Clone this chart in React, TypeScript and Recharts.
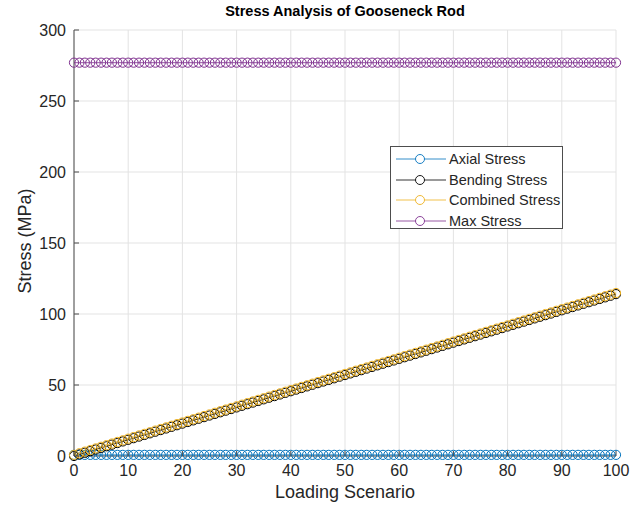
import { LineChart, Line, XAxis, YAxis, CartesianGrid } from 'recharts';

// Loading scenario index and stresses (MPa)
const scenarios = [
  0, 1, 2, 3, 4, 5, 6, 7, 8, 9, 10, 11, 12, 13, 14, 15, 16, 17, 18, 19, 20,
  21, 22, 23, 24, 25, 26, 27, 28, 29, 30, 31, 32, 33, 34, 35, 36, 37, 38, 39, 40,
  41, 42, 43, 44, 45, 46, 47, 48, 49, 50, 51, 52, 53, 54, 55, 56, 57, 58, 59, 60,
  61, 62, 63, 64, 65, 66, 67, 68, 69, 70, 71, 72, 73, 74, 75, 76, 77, 78, 79, 80,
  81, 82, 83, 84, 85, 86, 87, 88, 89, 90, 91, 92, 93, 94, 95, 96, 97, 98, 99, 100,
];

const axialStress = [
  0.8, 0.8, 0.8, 0.8, 0.8, 0.8, 0.8, 0.8, 0.8, 0.8, 0.8, 0.8, 0.8, 0.8, 0.8, 0.8, 0.8, 0.8, 0.8, 0.8, 0.8,
  0.8, 0.8, 0.8, 0.8, 0.8, 0.8, 0.8, 0.8, 0.8, 0.8, 0.8, 0.8, 0.8, 0.8, 0.8, 0.8, 0.8, 0.8, 0.8, 0.8,
  0.8, 0.8, 0.8, 0.8, 0.8, 0.8, 0.8, 0.8, 0.8, 0.8, 0.8, 0.8, 0.8, 0.8, 0.8, 0.8, 0.8, 0.8, 0.8, 0.8,
  0.8, 0.8, 0.8, 0.8, 0.8, 0.8, 0.8, 0.8, 0.8, 0.8, 0.8, 0.8, 0.8, 0.8, 0.8, 0.8, 0.8, 0.8, 0.8, 0.8,
  0.8, 0.8, 0.8, 0.8, 0.8, 0.8, 0.8, 0.8, 0.8, 0.8, 0.8, 0.8, 0.8, 0.8, 0.8, 0.8, 0.8, 0.8, 0.8, 0.8,
];

const bendingStress = [
  0, 1.14, 2.28, 3.42, 4.56, 5.7, 6.84, 7.98, 9.12, 10.26, 11.4,
  12.54, 13.68, 14.82, 15.96, 17.1, 18.24, 19.38, 20.52, 21.66, 22.8,
  23.94, 25.08, 26.22, 27.36, 28.5, 29.64, 30.78, 31.92, 33.06, 34.2,
  35.34, 36.48, 37.62, 38.76, 39.9, 41.04, 42.18, 43.32, 44.46, 45.6,
  46.74, 47.88, 49.02, 50.16, 51.3, 52.44, 53.58, 54.72, 55.86, 57,
  58.14, 59.28, 60.42, 61.56, 62.7, 63.84, 64.98, 66.12, 67.26, 68.4,
  69.54, 70.68, 71.82, 72.96, 74.1, 75.24, 76.38, 77.52, 78.66, 79.8,
  80.94, 82.08, 83.22, 84.36, 85.5, 86.64, 87.78, 88.92, 90.06, 91.2,
  92.34, 93.48, 94.62, 95.76, 96.9, 98.04, 99.18, 100.32, 101.46, 102.6,
  103.74, 104.88, 106.02, 107.16, 108.3, 109.44, 110.58, 111.72, 112.86, 114,
];

const combinedStress = [
  0.8, 1.94, 3.08, 4.22, 5.36, 6.5, 7.64, 8.78, 9.92, 11.06, 12.2,
  13.34, 14.48, 15.62, 16.76, 17.9, 19.04, 20.18, 21.32, 22.46, 23.6,
  24.74, 25.88, 27.02, 28.16, 29.3, 30.44, 31.58, 32.72, 33.86, 35,
  36.14, 37.28, 38.42, 39.56, 40.7, 41.84, 42.98, 44.12, 45.26, 46.4,
  47.54, 48.68, 49.82, 50.96, 52.1, 53.24, 54.38, 55.52, 56.66, 57.8,
  58.94, 60.08, 61.22, 62.36, 63.5, 64.64, 65.78, 66.92, 68.06, 69.2,
  70.34, 71.48, 72.62, 73.76, 74.9, 76.04, 77.18, 78.32, 79.46, 80.6,
  81.74, 82.88, 84.02, 85.16, 86.3, 87.44, 88.58, 89.72, 90.86, 92,
  93.14, 94.28, 95.42, 96.56, 97.7, 98.84, 99.98, 101.12, 102.26, 103.4,
  104.54, 105.68, 106.82, 107.96, 109.1, 110.24, 111.38, 112.52, 113.66, 114.8,
];

const maxStress = [
  277, 277, 277, 277, 277, 277, 277, 277, 277, 277, 277, 277, 277, 277, 277, 277, 277, 277, 277, 277, 277,
  277, 277, 277, 277, 277, 277, 277, 277, 277, 277, 277, 277, 277, 277, 277, 277, 277, 277, 277, 277,
  277, 277, 277, 277, 277, 277, 277, 277, 277, 277, 277, 277, 277, 277, 277, 277, 277, 277, 277, 277,
  277, 277, 277, 277, 277, 277, 277, 277, 277, 277, 277, 277, 277, 277, 277, 277, 277, 277, 277, 277,
  277, 277, 277, 277, 277, 277, 277, 277, 277, 277, 277, 277, 277, 277, 277, 277, 277, 277, 277, 277,
];

const xTicks = [0, 10, 20, 30, 40, 50, 60, 70, 80, 90, 100];
const yTicks = [0, 50, 100, 150, 200, 250, 300];

const series = [
  { key: 'axial', name: 'Axial Stress', color: '#0072BD' },
  { key: 'bending', name: 'Bending Stress', color: '#000000' },
  { key: 'combined', name: 'Combined Stress', color: '#EDB120' },
  { key: 'max', name: 'Max Stress', color: '#7E2F8E' },
];

const data = scenarios.map((s, i) => ({
  s,
  axial: axialStress[i],
  bending: bendingStress[i],
  combined: combinedStress[i],
  max: maxStress[i],
}));

const FONT = '"Liberation Sans", Arial, Helvetica, sans-serif';
const AXIS = '#4d4d4d';
const TEXT = '#262626';

const BottomTick = (p: any) => (
  <g>
    <line x1={p.x} y1={p.y} x2={p.x} y2={p.y - 5} stroke={AXIS} />
    <text x={p.x} y={p.y + 20} textAnchor="middle" fontSize={16} fill={TEXT} fontFamily={FONT}>{p.payload.value}</text>
  </g>
);
const TopTick = (p: any) => <line x1={p.x} y1={p.y} x2={p.x} y2={p.y + 5} stroke={AXIS} />;
const LeftTick = (p: any) => (
  <g>
    <line x1={p.x} y1={p.y} x2={p.x + 5} y2={p.y} stroke={AXIS} />
    <text x={p.x - 8} y={p.y + 6} textAnchor="end" fontSize={16} fill={TEXT} fontFamily={FONT}>{p.payload.value}</text>
  </g>
);
const RightTick = (p: any) => <line x1={p.x} y1={p.y} x2={p.x - 5} y2={p.y} stroke={AXIS} />;

const LegendBox = () => (
  <div style={{ position: 'absolute', left: 390, top: 146, width: 173, height: 83, border: `1px solid ${AXIS}`, background: '#fff', boxSizing: 'border-box', paddingTop: 2 }}>
    {series.map(s => (
      <div key={s.key} style={{ display: 'flex', alignItems: 'center', height: 20.5 }}>
        <svg width={58} height={20} style={{ flexShrink: 0 }}>
          <line x1={5} y1={10} x2={55} y2={10} stroke={s.color} strokeWidth={0.8} />
          <circle cx={29} cy={10} r={4.5} fill="#fff" stroke={s.color} strokeWidth={0.9} />
        </svg>
        <span style={{ fontSize: 14.5, color: TEXT, fontFamily: FONT, whiteSpace: 'nowrap' }}>{s.name}</span>
      </div>
    ))}
  </div>
);

export default function App() {
  return (
    <div style={{ position: 'relative', width: 639, height: 510, background: '#fff', fontFamily: FONT }}>
      <style>{'body{margin:0;}'}</style>
      <LineChart width={639} height={510} data={data} margin={{ top: 30, right: 23, bottom: 0, left: 0 }}>
        <CartesianGrid xAxisId="b" yAxisId="l" stroke="#e3e3e3" strokeWidth={1} />
        <XAxis xAxisId="b" dataKey="s" type="number" domain={[0, 100]} ticks={xTicks} height={54}
          axisLine={{ stroke: AXIS }} tickLine={false} tickSize={0} tickMargin={0} tick={BottomTick} interval={0} />
        <XAxis xAxisId="t" orientation="top" dataKey="s" type="number" domain={[0, 100]} ticks={xTicks} height={0}
          axisLine={{ stroke: AXIS }} tickLine={false} tickSize={0} tickMargin={0} tick={TopTick} interval={0} />
        <YAxis yAxisId="l" type="number" domain={[0, 300]} ticks={yTicks} width={74}
          axisLine={{ stroke: AXIS }} tickLine={false} tickSize={0} tickMargin={0} tick={LeftTick} interval={0} />
        <YAxis yAxisId="r" orientation="right" type="number" domain={[0, 300]} ticks={yTicks} width={0}
          axisLine={{ stroke: AXIS }} tickLine={false} tickSize={0} tickMargin={0} tick={RightTick} interval={0} />
        {series.map(s => (
          <Line key={s.key} xAxisId="b" yAxisId="l" type="linear" dataKey={s.key} name={s.name}
            stroke={s.color} strokeWidth={0.8} isAnimationActive={false}
            dot={{ r: 4.6, stroke: s.color, strokeWidth: 1, fill: 'none' }} activeDot={false} />
        ))}
      </LineChart>
      <LegendBox />
      <div style={{ position: 'absolute', left: 74, width: 542, top: 3, textAlign: 'center', fontSize: 14.5, fontWeight: 'bold', color: '#000' }}>
        Stress Analysis of Gooseneck Rod
      </div>
      <div style={{ position: 'absolute', left: 74, width: 542, top: 482, textAlign: 'center', fontSize: 18, color: TEXT }}>
        Loading Scenario
      </div>
      <div style={{ position: 'absolute', left: 25, top: 241, transform: 'translate(-50%, -50%) rotate(-90deg)', fontSize: 18, color: TEXT, whiteSpace: 'nowrap' }}>
        Stress (MPa)
      </div>
    </div>
  );
}
